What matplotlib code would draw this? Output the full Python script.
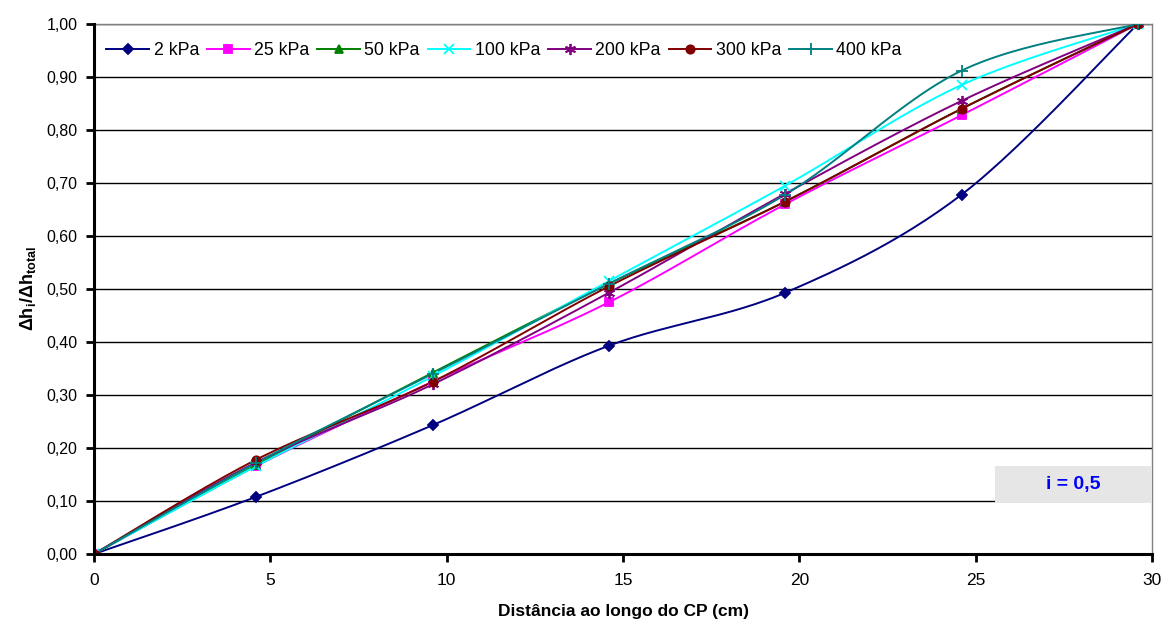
import numpy as np
import matplotlib
matplotlib.use("Agg")
import matplotlib.pyplot as plt
from matplotlib.patches import Rectangle
from matplotlib.ticker import FuncFormatter, MultipleLocator

plt.rcParams['font.family'] = ['Liberation Sans', 'DejaVu Sans']
plt.rcParams['mathtext.fontset'] = 'custom'
plt.rcParams['mathtext.rm'] = 'Liberation Sans'
plt.rcParams['mathtext.it'] = 'Liberation Sans:italic'
plt.rcParams['mathtext.bf'] = 'Liberation Sans:bold'

# ---- data ----
distance = [0, 4.6, 9.6, 14.6, 19.6, 24.6, 29.6]
labels = ['2 kPa', '25 kPa', '50 kPa', '100 kPa', '200 kPa', '300 kPa', '400 kPa']
s2 = [0.0, 0.108, 0.243, 0.393, 0.493, 0.678, 1.0]
s25 = [0.0, 0.166, 0.325, 0.475, 0.660, 0.828, 1.0]
s50 = [0.0, 0.168, 0.342, 0.510, 0.665, 0.840, 1.0]
s100 = [0.0, 0.166, 0.335, 0.515, 0.695, 0.885, 1.0]
s200 = [0.0, 0.173, 0.320, 0.493, 0.680, 0.855, 1.0]
s300 = [0.0, 0.178, 0.325, 0.505, 0.665, 0.840, 1.0]
s400 = [0.0, 0.172, 0.340, 0.510, 0.678, 0.912, 1.0]
series = [s2, s25, s50, s100, s200, s300, s400]

colors = ['#000080', '#FF00FF', '#008000', '#00FFFF', '#800080', '#800000', '#008080']
markers = ['D', 's', '^', 'x', (6, 2, 0), 'o', '+']
msizes = [5, 6, 6, 7, 8, 6, 8]


def smooth(x, y, n=30):
    """Catmull-Rom style Bezier smoothing like spreadsheet smoothed lines."""
    x = np.asarray(x, float)
    y = np.asarray(y, float)
    px, py = [], []
    m = len(x)
    for i in range(m - 1):
        x0, y0 = (x[i - 1], y[i - 1]) if i > 0 else (x[i], y[i])
        x1, y1 = x[i], y[i]
        x2, y2 = x[i + 1], y[i + 1]
        x3, y3 = (x[i + 2], y[i + 2]) if i + 2 < m else (x2, y2)
        c1x, c1y = x1 + (x2 - x0) / 6, y1 + (y2 - y0) / 6
        c2x, c2y = x2 - (x3 - x1) / 6, y2 - (y3 - y1) / 6
        t = np.linspace(0, 1, n)
        bx = (1 - t) ** 3 * x1 + 3 * (1 - t) ** 2 * t * c1x + 3 * (1 - t) * t ** 2 * c2x + t ** 3 * x2
        by = (1 - t) ** 3 * y1 + 3 * (1 - t) ** 2 * t * c1y + 3 * (1 - t) * t ** 2 * c2y + t ** 3 * y2
        px.extend(bx)
        py.extend(by)
    return np.array(px), np.array(py)


fig = plt.figure(figsize=(11.63, 6.30), dpi=100)
ax = fig.add_axes([94 / 1163, 1 - 554 / 630, (1152 - 94) / 1163, (554 - 24) / 630])

for lab, ys, c, mk, ms in zip(labels, series, colors, markers, msizes):
    sx, sy = smooth(distance, ys)
    ax.plot(sx, sy, color=c, lw=1.4, zorder=3)
    ax.plot(distance, ys, linestyle='none', marker=mk, color=c, markersize=ms,
            markeredgewidth=1.3, zorder=4)
    ax.plot([], [], color=c, lw=1.4, marker=mk, markersize=ms, markeredgewidth=1.3, label=lab)

ax.set_xlim(0, 30)
ax.set_ylim(0, 1.0)
ax.xaxis.set_major_locator(MultipleLocator(5))
ax.yaxis.set_major_locator(MultipleLocator(0.1))
ax.yaxis.set_major_formatter(FuncFormatter(lambda v, p: f"{v:.2f}".replace('.', ',')))
ax.xaxis.set_major_formatter(FuncFormatter(lambda v, p: f"{v:.0f}"))

ax.grid(axis='y', color='black', lw=1.0, zorder=1)
ax.set_axisbelow(True)
for s in ['top', 'right']:
    ax.spines[s].set_color('#808080')
    ax.spines[s].set_linewidth(1.0)
for s in ['left', 'bottom']:
    ax.spines[s].set_color('black')
    ax.spines[s].set_linewidth(2.2)
    ax.spines[s].set_zorder(5)
ax.tick_params(axis='both', direction='out', length=6, width=2, colors='black')
ax.tick_params(axis='x', pad=8, labelsize=12.5)
ax.tick_params(axis='y', pad=6, labelsize=11.5)

ax.set_xlabel('Distância ao longo do CP (cm)', fontsize=12.5, fontweight='bold', labelpad=11)
ax.set_ylabel(r'$\mathbf{\Delta h_i/\Delta h_{total}}$', fontsize=13, labelpad=6)

leg = ax.legend(loc='upper left', ncol=7, frameon=False, fontsize=12.8,
                bbox_to_anchor=(0.0, 0.99), handlelength=2.4, handletextpad=0.25,
                columnspacing=0.45, borderaxespad=0.3)

# annotation box
ax.add_patch(Rectangle((0.8516, 0.0962), 0.1484, 0.0698, transform=ax.transAxes,
                       facecolor='#E6E6E6', edgecolor='none', zorder=6))
ax.text(0.8516 + 0.1484 / 2, 0.0962 + 0.0698 / 2, 'i = 0,5', transform=ax.transAxes,
        ha='center', va='center', color='#0000FF', fontsize=14, fontweight='bold', zorder=7)

fig.savefig('out.png', dpi=100)
